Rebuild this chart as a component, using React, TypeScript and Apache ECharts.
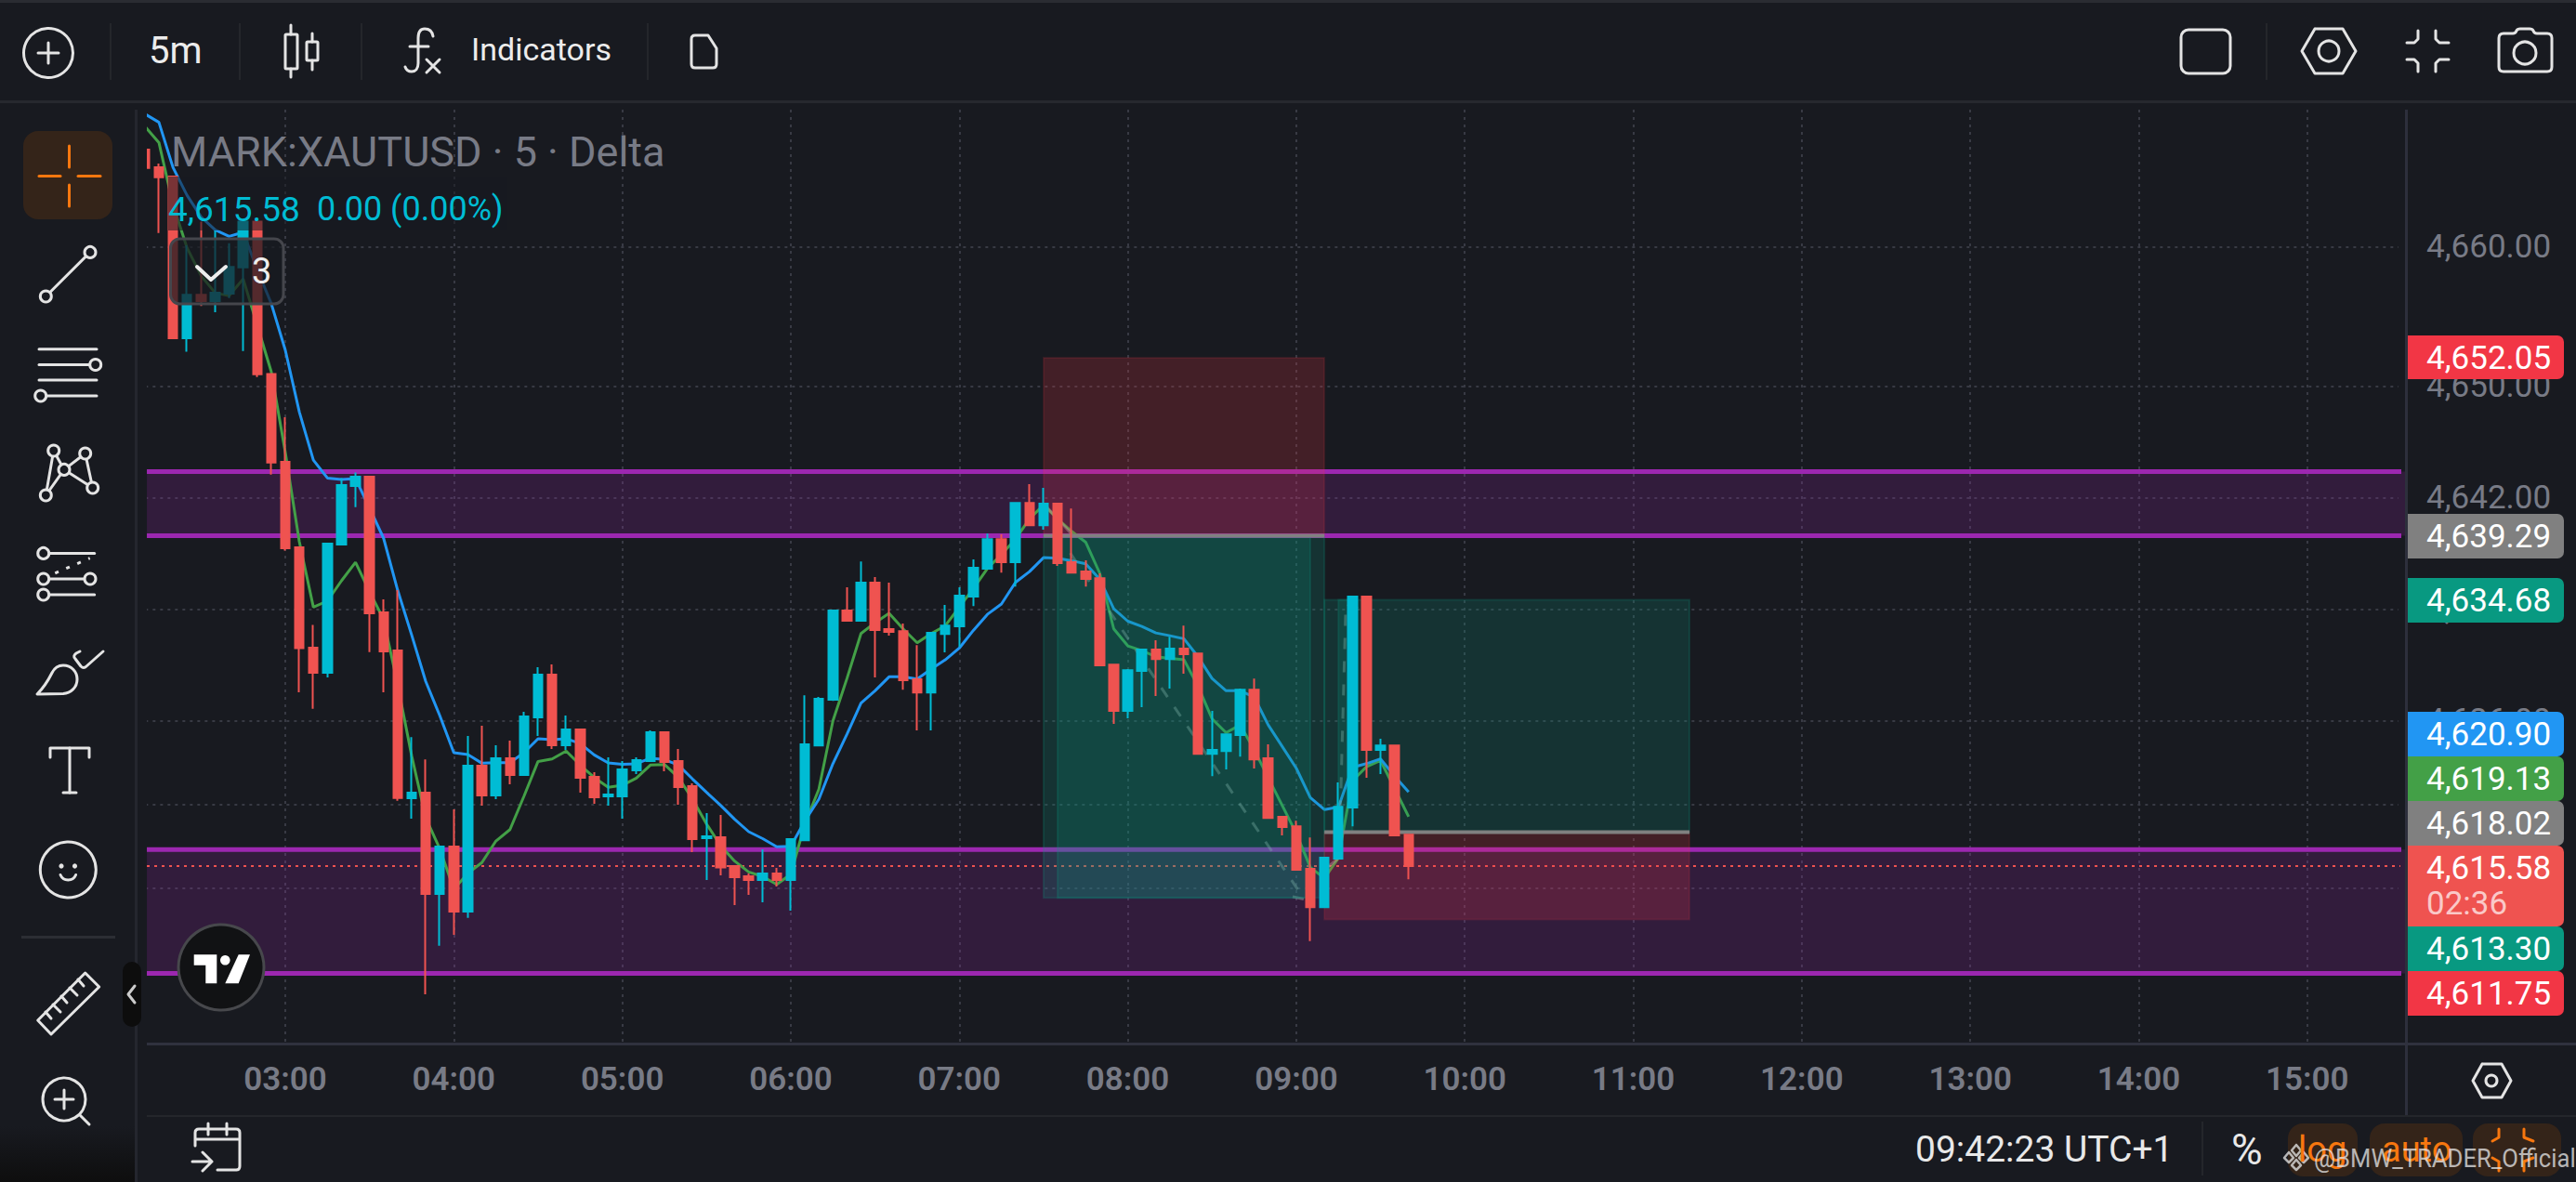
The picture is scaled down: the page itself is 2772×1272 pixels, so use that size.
import React, { useEffect, useRef } from "react";
import * as echarts from "echarts";

const BG = "#181a20";
const UP = "#00bcd4";
const DOWN = "#ef5350";
const ICON = "#e4e4e4";
const ORANGE = "#f7770f";

// candles run from 02:10 to 09:40, one per five minutes
const open = [
  4666.98, 4665.71, 4665.05, 4653.45, 4656.56, 4656.11, 4656.65, 4658.54, 4661.82, 4650.89,
  4644.58, 4638.45, 4631.25, 4629.45, 4638.65, 4642.85, 4643.51, 4633.78, 4631.05, 4620.45,
  4620.85, 4613.58, 4616.98, 4612.32, 4622.78, 4620.65, 4623.32, 4622.12, 4626.25, 4629.32,
  4624.25, 4625.38, 4621.98, 4620.58, 4620.58, 4622.45, 4623.12, 4625.18, 4623.12, 4621.32,
  4617.58, 4617.65, 4615.58, 4614.85, 4614.58, 4615.05, 4614.58, 4617.44, 4624.24, 4627.51,
  4633.91, 4633.18, 4635.91, 4632.58, 4632.44, 4628.98, 4628.04, 4632.24, 4632.78, 4634.91,
  4636.91, 4639.04, 4637.38, 4641.64, 4640.04, 4641.58, 4637.38, 4636.71, 4636.24, 4630.04,
  4626.71, 4629.58, 4631.11, 4630.44, 4631.18, 4630.84, 4623.64, 4623.84, 4624.98, 4628.24,
  4623.31, 4619.11, 4618.44, 4615.38, 4612.64, 4616.11, 4619.78, 4634.91, 4623.91, 4624.24, 4617.84,
];
const close = [
  4665.67, 4665.0, 4653.45, 4656.56, 4656.11, 4656.71, 4658.56, 4661.82, 4650.87, 4644.54,
  4638.38, 4631.21, 4629.45, 4638.71, 4642.91, 4643.51, 4633.72, 4630.98, 4620.47, 4620.85,
  4613.58, 4616.98, 4612.32, 4622.78, 4620.65, 4623.32, 4622.12, 4626.32, 4629.32, 4624.25,
  4625.38, 4621.92, 4620.52, 4620.72, 4622.52, 4623.18, 4625.18, 4623.05, 4621.25, 4617.52,
  4617.72, 4615.49, 4614.78, 4614.58, 4615.05, 4614.58, 4617.52, 4624.31, 4627.58, 4633.91,
  4633.18, 4635.91, 4632.51, 4632.38, 4628.91, 4628.04, 4632.31, 4632.84, 4634.98, 4636.98,
  4639.04, 4637.38, 4641.64, 4640.04, 4641.58, 4637.31, 4636.64, 4636.18, 4629.98, 4626.71,
  4629.64, 4631.11, 4630.44, 4631.18, 4630.78, 4623.64, 4623.91, 4625.04, 4628.24, 4623.24,
  4619.04, 4618.38, 4615.31, 4612.64, 4616.18, 4619.84, 4634.91, 4623.91, 4624.24, 4617.78, 4615.58,
];
const low = [
  4665.67, 4661.0, 4653.45, 4652.49, 4655.76, 4655.31, 4656.34, 4652.54, 4650.67, 4643.67,
  4638.22, 4628.05, 4626.87, 4629.12, 4638.65, 4641.34, 4630.94, 4628.05, 4620.27, 4618.98,
  4606.38, 4609.87, 4610.65, 4611.87, 4619.92, 4620.38, 4621.45, 4622.12, 4624.92, 4623.98,
  4623.92, 4620.85, 4620.05, 4619.92, 4618.98, 4622.18, 4623.12, 4622.38, 4619.98, 4616.58,
  4614.58, 4614.92, 4612.78, 4613.52, 4612.98, 4614.12, 4612.38, 4617.44, 4624.24, 4627.44,
  4633.18, 4633.18, 4629.11, 4632.11, 4628.24, 4625.31, 4625.31, 4630.91, 4631.31, 4634.24,
  4636.91, 4636.64, 4635.64, 4640.04, 4639.71, 4637.11, 4636.64, 4635.64, 4629.91, 4625.78,
  4626.18, 4626.98, 4627.78, 4628.31, 4629.38, 4623.64, 4622.04, 4622.51, 4623.44, 4622.58,
  4619.04, 4617.78, 4615.31, 4610.2, 4612.58, 4616.11, 4618.44, 4621.91, 4622.18, 4617.78, 4614.64,
];
const high = [
  4666.98, 4665.98, 4665.05, 4660.11, 4661.82, 4661.16, 4660.27, 4661.82, 4661.82, 4650.89,
  4647.78, 4638.45, 4632.89, 4638.71, 4643.42, 4643.82, 4643.51, 4634.72, 4635.38, 4624.83,
  4623.23, 4616.98, 4619.65, 4624.92, 4625.65, 4624.25, 4624.58, 4626.65, 4629.85, 4630.05,
  4626.38, 4625.38, 4622.32, 4623.38, 4623.12, 4623.38, 4625.32, 4625.25, 4623.98, 4621.52,
  4619.38, 4619.25, 4615.65, 4615.05, 4616.78, 4615.45, 4617.52, 4627.84, 4627.71, 4633.91,
  4635.58, 4637.44, 4636.31, 4635.91, 4632.98, 4631.44, 4632.31, 4634.31, 4635.58, 4637.58,
  4639.44, 4639.38, 4641.64, 4642.98, 4642.71, 4641.58, 4641.24, 4637.51, 4636.58, 4630.04,
  4629.71, 4631.18, 4631.78, 4632.04, 4632.84, 4630.84, 4626.71, 4625.04, 4628.31, 4629.04,
  4624.31, 4619.18, 4618.84, 4617.64, 4616.18, 4621.58, 4634.91, 4634.91, 4624.71, 4624.24, 4617.84,
];
const maBlue = [
  4669.54, 4668.94, 4665.71, 4663.71, 4662.16, 4661.22, 4660.76, 4661.05, 4658.38, 4655.94,
  4652.6, 4648.16, 4644.71, 4643.42, 4643.31, 4643.38, 4641.27, 4639.1, 4635.38, 4632.16,
  4628.83, 4626.38, 4623.72, 4623.58, 4622.96, 4623.0, 4623.0, 4623.72, 4624.72, 4624.65,
  4624.72, 4624.38, 4623.56, 4622.98, 4622.89, 4622.92, 4623.32, 4623.23, 4622.83, 4621.83,
  4620.87, 4619.94, 4618.94, 4618.05, 4617.55, 4616.97, 4617.0, 4618.82, 4620.38, 4622.93,
  4625.04, 4627.27, 4628.16, 4629.16, 4629.16, 4629.0, 4629.71, 4630.38, 4631.22, 4632.49,
  4633.64, 4634.38, 4635.93, 4636.71, 4637.71, 4637.67, 4637.49, 4637.27, 4636.16, 4634.04,
  4633.15, 4632.78, 4632.31, 4632.11, 4631.89, 4630.6, 4629.04, 4628.16, 4628.16, 4627.71,
  4625.71, 4624.16, 4622.6, 4620.49, 4619.64, 4619.82, 4622.67, 4622.93, 4623.27, 4622.04, 4620.9,
];
const maGreen = [
  4668.65, 4667.49, 4663.05, 4659.94, 4657.94, 4656.71, 4656.49, 4657.71, 4654.38, 4651.05,
  4645.27, 4638.85, 4634.16, 4634.6, 4636.05, 4637.38, 4635.27, 4633.27, 4628.6, 4623.49,
  4619.05, 4616.83, 4613.94, 4615.05, 4615.83, 4617.38, 4618.2, 4620.6, 4623.09, 4623.27,
  4623.83, 4622.83, 4621.94, 4621.23, 4621.38, 4621.89, 4622.83, 4622.87, 4621.94, 4620.38,
  4618.6, 4617.05, 4615.94, 4615.16, 4614.83, 4614.27, 4615.0, 4618.6, 4621.1, 4626.0,
  4629.04, 4632.27, 4633.04, 4633.71, 4632.6, 4631.6, 4632.27, 4632.82, 4634.16, 4635.49,
  4636.93, 4637.93, 4639.04, 4640.49, 4641.49, 4640.49, 4639.6, 4638.82, 4636.6, 4632.6,
  4631.38, 4631.04, 4630.6, 4630.49, 4630.38, 4628.49, 4626.15, 4625.15, 4625.71, 4623.93,
  4621.93, 4619.93, 4617.93, 4615.49, 4614.71, 4616.16, 4621.7, 4622.71, 4623.15, 4621.15, 4619.13,
];

const priceTicks = [4660, 4650, 4642, 4634, 4626, 4620, 4614];
const timeTicks = ["03:00", "04:00", "05:00", "06:00", "07:00", "08:00", "09:00", "10:00", "11:00", "12:00", "13:00", "14:00", "15:00"];

// [from bar, to bar, upper price, lower price]; bar 0 is 03:00
const purpleZones = [
  [-9.86, 150.96, 4643.89, 4639.29],
  [-9.86, 150.96, 4616.76, 4607.89],
];
const profitZones = [
  [54, 74, 4639.29, 4613.3],
  [55, 73, 4639.29, 4613.3],
  [74, 100, 4634.68, 4618.02],
  [75, 76, 4634.68, 4618.02],
];
const lossZones = [
  [54, 74, 4652.05, 4639.29],
  [74, 100, 4618.02, 4611.75],
];
const purpleLevels = [4643.89, 4639.29, 4616.76, 4607.89];
const entryLines = [
  [54, 74, 4639.29],
  [74, 100, 4618.02],
];
const lastPrice = 4615.58;
const dashedPaths = [
  [[55.9, 4638.04], [72.53, 4613.27]],
  [[75.05, 4616.16], [75.53, 4634.38], [76.49, 4634.04]],
];
const solidPaths = [
  [[54, 4641.6], [56, 4639.4]],
  [[71.74, 4613.38], [72.53, 4613.22]],
  [[74, 4615.3], [75, 4616.16]],
];
// [text, background, top, bottom]
const priceTags: [string, string, number, number][] = [
  ["4,652.05", "#f23645", 361, 408],
  ["4,639.29", "#808080", 553, 601],
  ["4,634.68", "#089981", 622, 670],
  ["4,620.90", "#2196f3", 766, 814],
  ["4,619.13", "#43a047", 814, 862],
  ["4,618.02", "#808080", 862, 910],
  ["4,615.58", "#ef5350", 910, 997],
  ["4,613.30", "#089981", 997, 1045],
  ["4,611.75", "#f23645", 1045, 1093],
];

const categories: string[] = [];
for (let i = -10; i <= 150; i++) {
  const m = 180 + i * 5;
  categories.push(String(Math.floor(m / 60) % 24).padStart(2, "0") + ":" + String(m % 60).padStart(2, "0"));
}

const shapes: Record<string, string> = {
  fxIcon: "M466 39 C465 33 461 31 457 31 C452 31 450 35 450 41 L450 68 C450 74 447 77 443 77 C439 77 437 75 436 72 M441 50 L461 50 M459 64 L473 78 M473 64 L459 78",
  docIcon: "M748 38 L762 38 L771 52 L771 69 Q771 73 767 73 L748 73 Q744 73 744 69 L744 42 Q744 38 748 38 Z",
  cameraIcon: "M2694 36 L2704 36 Q2707 36 2708 33 Q2709 31 2712 31 L2722 31 Q2725 31 2726 33 Q2727 36 2730 36 L2741 36 Q2746 36 2746 41 L2746 72 Q2746 77 2741 77 L2694 77 Q2689 77 2689 72 L2689 41 Q2689 36 2694 36 Z",
  brushIcon: "M40 747 C48 739 52 732 56 724 C59 718 63 716 68 716 C77 716 83 723 83 731 C83 740 76 746 68 746.5 Z M86 701 L82 703 Q78 706 81 709 L87 717 Q90 720 93 717 L111 701",
  calendarIcon: "M210 1233 L210 1219 Q210 1215 214 1215 L254 1215 Q258 1215 258 1219 L258 1255 Q258 1259 254 1259 L234 1259 M210 1226 L258 1226 M224 1209 L224 1221 M244 1209 L244 1221 M207 1250 L228 1250 M218 1240 L228 1250 L218 1260",
};
Object.keys(shapes).forEach((k) => echarts.graphic.registerShape(k, echarts.graphic.extendPath(shapes[k], {})));

const stroke = (color = ICON, lineWidth = 3) => ({ fill: "none", stroke: color, lineWidth, lineCap: "round", lineJoin: "round" });
const ln = (x1: number, y1: number, x2: number, y2: number, color = ICON, w = 3) => ({
  type: "line", z: 101, shape: { x1, y1, x2, y2 }, style: stroke(color, w),
});
const ci = (cx: number, cy: number, r: number, color = ICON, w = 3) => ({
  type: "circle", z: 101, shape: { cx, cy, r }, style: stroke(color, w),
});
const node = (cx: number, cy: number, r = 6) => ({
  type: "circle", z: 102, shape: { cx, cy, r }, style: { fill: BG, stroke: ICON, lineWidth: 3 },
});
const dot = (cx: number, cy: number, r: number, fill = ICON) => ({ type: "circle", z: 101, shape: { cx, cy, r }, style: { fill } });
const rc = (x: number, y: number, width: number, height: number, fill: string, r: any = 0, z = 100) => ({
  type: "rect", z, shape: { x, y, width, height, r }, style: { fill },
});
const pl = (points: number[][], color = ICON, w = 3) => ({ type: "polyline", z: 101, shape: { points }, style: stroke(color, w) });
const pg = (points: number[][], fill = "#fff") => ({ type: "polygon", z: 102, shape: { points }, style: { fill } });
const ic = (name: string, color = ICON, w = 3) => ({ type: name, z: 101, x: 0, y: 0, style: stroke(color, w) });
const tx = (text: string, x: number, y: number, fontSize: number, fill: string, extra: any = {}, el: any = {}) => ({
  type: "text", z: 103, x, y, ...el,
  style: { text, fontSize, fill, fontFamily: "Roboto", verticalAlign: "middle", align: "left", ...extra },
});

function buildGraphics() {
  const els: any[] = [
    // clear strip between the tool panel and the plot
    rc(147, 112, 11, 1012, BG, 0, 99),
    // frame lines
    rc(0, 0, 2772, 3, "#2a2c32", 0, 99),
    rc(0, 108, 2772, 3, "#26282e", 0, 99),
    rc(145, 118, 3, 1154, "#24262e", 0, 99),
    rc(2588, 118, 3, 1083, "#2d2f3c", 0, 99),
    rc(158, 1122, 2614, 3, "#2f313e", 0, 99),
    rc(158, 1200, 2614, 2, "#24262b", 0, 99),
    {
      type: "rect", z: 99, shape: { x: 0, y: 1212, width: 145, height: 60 },
      style: {
        fill: new echarts.graphic.LinearGradient(0, 0, 0, 1, [
          { offset: 0, color: BG },
          { offset: 1, color: "#0e0e0e" },
        ]),
      },
    },
    // legend backdrop and texts
    rc(181, 190, 365, 58, "rgba(24,26,32,0.55)", 0, 99),
    tx("MARK:XAUTUSD · 5 · Delta", 184, 163, 45, "#787b86"),
    tx("4,615.58", 181, 225, 37, UP),
    tx("0.00 (0.00%)", 341, 225, 36, UP),
    { type: "rect", z: 100, shape: { x: 183.5, y: 257, width: 121.5, height: 70, r: 10 }, style: { fill: "rgba(24,26,32,0.72)", stroke: "#45464c", lineWidth: 3 } },
    pl([[212, 287], [227, 301], [243, 287]], "#eeeeee", 4),
    tx("3", 271, 292, 38, "#eeeeee"),

    // top tool bar
    ci(52, 57, 26.5),
    ln(41, 57, 63, 57),
    ln(52, 46, 52, 68),
    rc(118, 25, 2, 61, "#24262b"),
    tx("5m", 160, 54, 40, "#ececec"),
    rc(257, 25, 2, 61, "#24262b"),
    ln(313, 27, 313, 37),
    ln(313, 74, 313, 83),
    { type: "rect", z: 101, shape: { x: 307, y: 37, width: 13, height: 37, r: 1 }, style: stroke() },
    ln(336, 36, 336, 45),
    ln(336, 65, 336, 75),
    { type: "rect", z: 101, shape: { x: 330, y: 45, width: 12, height: 20, r: 1 }, style: stroke() },
    rc(388, 25, 2, 61, "#24262b"),
    ic("fxIcon"),
    tx("Indicators", 507, 53, 34, "#ececec"),
    rc(696, 25, 2, 61, "#24262b"),
    ic("docIcon"),
    { type: "rect", z: 101, shape: { x: 2347, y: 32, width: 53, height: 47, r: 8 }, style: stroke() },
    rc(2438, 25, 2, 61, "#24262b"),
    pl([[2491, 31], [2521, 31], [2535, 55], [2521, 79], [2491, 79], [2477, 55], [2491, 31]]),
    ci(2506, 55, 11),
    pl([[2590, 46], [2598, 46], [2602, 42], [2602, 33]]),
    pl([[2621, 33], [2621, 42], [2625, 46], [2635, 46]]),
    pl([[2590, 64], [2598, 64], [2602, 68], [2602, 77]]),
    pl([[2621, 77], [2621, 68], [2625, 64], [2635, 64]]),
    ic("cameraIcon"),
    ci(2717, 57, 12),

    // left tool bar
    rc(25, 141, 96, 95, "#342419", 16),
    ln(74.5, 157, 74.5, 180, ORANGE),
    ln(74.5, 199, 74.5, 222, ORANGE),
    ln(42, 189.5, 65, 189.5, ORANGE),
    ln(84, 189.5, 108, 189.5, ORANGE),
    // trend line
    ln(49.3, 319, 97, 271.4),
    node(49.3, 319),
    node(97, 271.4),
    // fib channel
    ln(42, 375.7, 104, 375.7),
    ln(42, 392.5, 97, 392.5),
    ln(42, 409, 104, 409),
    ln(50, 426, 104, 426),
    node(102.7, 392.5),
    node(43.7, 426),
    // pattern
    ln(57.7, 485, 49.3, 533),
    ln(57.7, 485, 69, 505.4),
    ln(49.3, 533, 69, 505.4),
    ln(69, 505.4, 91.7, 488),
    ln(91.7, 488, 99.7, 525),
    ln(69, 505.4, 99.7, 525),
    node(57.7, 485),
    node(91.7, 488),
    node(69, 505.4),
    node(99.7, 525),
    node(49.3, 533),
    // forecast levels
    ln(46.7, 595.4, 101.7, 595.4),
    ln(46.7, 623, 97, 623),
    ln(46.7, 640, 101.7, 640),
    { type: "line", z: 101, shape: { x1: 59.3, y1: 616.8, x2: 96.7, y2: 600.7 }, style: { stroke: ICON, lineWidth: 3, lineDash: [4, 9] } },
    node(46.7, 595.4),
    node(46.7, 623),
    node(97, 623),
    node(46.7, 640),
    ic("brushIcon"),
    pl([[54, 815], [54, 805], [96, 805], [96, 815]]),
    ln(75, 805, 75, 853),
    ln(68, 853, 82, 853),
    ci(73.3, 936, 30),
    dot(66, 932, 2.6),
    dot(80.5, 932, 2.6),
    { type: "arc", z: 101, shape: { cx: 73.3, cy: 938, r: 9, startAngle: 0.4, endAngle: Math.PI - 0.4 }, style: stroke() },
    rc(23, 1007, 101, 3, "#2c2e34"),
    pl([[91.7, 1047], [106.7, 1062], [55, 1113], [40.7, 1098], [91.7, 1047]]),
    ln(84, 1054, 90, 1061),
    ln(75, 1063, 83, 1071),
    ln(66, 1072, 72, 1079),
    ln(57, 1081, 65, 1089),
    ln(49, 1089, 55, 1096),
    ci(69, 1183, 23),
    ln(59, 1183, 79, 1183),
    ln(69, 1173, 69, 1193),
    ln(86, 1200, 96, 1210),
    rc(132, 1035, 20, 70, "#0d0d0d", 10),
    pl([[145, 1061], [138, 1070], [145, 1079]], "#cccccc", 3),

    // logo
    { type: "circle", z: 100, shape: { cx: 238, cy: 1041, r: 46 }, style: { fill: "#111214", stroke: "#47484c", lineWidth: 3 } },
    pg([[208.7, 1027.3], [233.3, 1027.3], [233.3, 1058.3], [221.3, 1058.3], [221.3, 1038.7], [208.7, 1038.7]]),
    pg([[256.7, 1027.3], [269, 1027.3], [256.7, 1058.3], [242.3, 1058.3]]),
    { type: "circle", z: 102, shape: { cx: 242.3, cy: 1033.3, r: 5.3 }, style: { fill: "#fff" } },

    // bottom bar
    ic("calendarIcon"),
    pl([[2671, 1145], [2692, 1145], [2702, 1163], [2692, 1181], [2671, 1181], [2661, 1163], [2671, 1145]]),
    ci(2681, 1163, 6),
    tx("09:42:23 UTC+1", 2061, 1237, 39, "#e8e8e8"),
    rc(2369, 1207, 2, 58, "#24262b"),
    tx("%", 2401, 1237, 46, "#e8e8e8"),
    rc(2462, 1209, 75, 57, "#342419", 16),
    rc(2550, 1209, 100, 57, "#342419", 16),
    rc(2661, 1209, 95, 57, "#342419", 16),
    tx("log", 2473, 1237, 38, ORANGE),
    tx("auto", 2563, 1237, 38, ORANGE),
    pl([[2689, 1215], [2689, 1224], [2682, 1228]], ORANGE),
    pl([[2716, 1215], [2716, 1224], [2726, 1228]], ORANGE),
    pl([[2682, 1246], [2689, 1250], [2689, 1260]], ORANGE),
    pl([[2726, 1246], [2716, 1250], [2716, 1260]], ORANGE),
    tx("@BMW_TRADER_Official", 2490, 1247, 27, "rgba(225,225,225,0.78)", {}, { scaleX: 0.95 }),
    pl([[2471, 1232], [2476, 1238], [2471, 1244], [2466, 1238], [2471, 1232]], "rgba(225,225,225,0.78)", 2.5),
    pl([[2463, 1240], [2468, 1246], [2463, 1251], [2458, 1246], [2463, 1240]], "rgba(225,225,225,0.78)", 2.5),
    pl([[2479, 1240], [2484, 1246], [2479, 1251], [2474, 1246], [2479, 1240]], "rgba(225,225,225,0.78)", 2.5),
    pl([[2471, 1248], [2476, 1254], [2471, 1259], [2466, 1254], [2471, 1248]], "rgba(225,225,225,0.78)", 2.5),
  ];
  priceTags.forEach(([t, color, top, bottom]) => {
    els.push(rc(2591, top, 168, bottom - top, color, [0, 7, 7, 0]));
    els.push(tx(t, 2611, top + 24, 35, "#ffffff"));
  });
  els.push(tx("02:36", 2611, 972, 35, "rgba(255,255,255,0.7)"));
  return els;
}

const zoneSeries = (data: number[][], fill: string, edge: string | null, z: number, clip: boolean) => ({
  type: "custom",
  xAxisIndex: 1,
  z,
  clip,
  silent: true,
  encode: { x: [0, 1], y: [2, 3] },
  data,
  renderItem: (_: any, api: any) => {
    const a = api.coord([api.value(0), api.value(2)]);
    const b = api.coord([api.value(1), api.value(3)]);
    return {
      type: "rect",
      shape: { x: a[0], y: a[1], width: b[0] - a[0], height: b[1] - a[1] },
      style: { fill, stroke: edge || "none", lineWidth: edge ? 2 : 0 },
    };
  },
});

const pathSeries = (points: number[][], color: string, width: number, z: number, dash: any = "solid") => ({
  type: "line",
  xAxisIndex: 1,
  z,
  data: points,
  symbol: "none",
  silent: true,
  clip: false,
  lineStyle: { color, width, type: dash },
});

const isHour = (_: number, value: string) => timeTicks.includes(value);

export default function App() {
  const ref = useRef<HTMLDivElement>(null);
  useEffect(() => {
    document.body.style.margin = "0";
    document.body.style.background = BG;
    const chart = echarts.init(ref.current!, undefined, { renderer: "svg" });
    chart.setOption({
      animation: false,
      backgroundColor: BG,
      textStyle: { fontFamily: "Roboto" },
      grid: { left: 148.35, top: 118, width: 2432.7, height: 1005 },
      xAxis: [
        {
          type: "category",
          data: categories,
          boundaryGap: true,
          axisLine: { show: false },
          axisTick: { show: false, alignWithLabel: true, interval: isHour },
          axisLabel: { interval: isHour, color: "#787b86", fontSize: 35, fontWeight: 600, fontFamily: "Roboto", margin: 21, hideOverlap: false },
          splitLine: { show: true, interval: isHour, alignWithLabel: true, lineStyle: { color: "#383a44", width: 2, type: [3, 5] } },
        },
        { type: "value", min: -10.5, max: 150.5, show: false, splitLine: { show: false } },
      ],
      yAxis: {
        type: "value",
        position: "right",
        min: 4602.85,
        max: 4669.85,
        axisLine: { show: false },
        axisTick: { show: false, customValues: priceTicks },
        axisLabel: {
          customValues: priceTicks,
          color: "#787b86",
          fontSize: 35,
          fontFamily: "Roboto",
          margin: 30,
          formatter: (v: number) => v.toLocaleString("en-US", { minimumFractionDigits: 2, maximumFractionDigits: 2 }),
        },
        splitLine: { show: true, lineStyle: { color: "#383a44", width: 2, type: [3, 5] } },
      },
      graphic: { elements: buildGraphics() },
      series: [
        zoneSeries(purpleZones, "rgba(156,39,176,0.2)", null, 1, false),
        ...purpleLevels.map((p) => pathSeries([[-9.86, p], [150.96, p]], "#9c27b0", 5, 1)),
        pathSeries([[-9.86, lastPrice], [150.7, lastPrice]], "#ef5350", 2, 2, [3, 5]),
        {
          type: "line", data: maGreen, symbol: "none", z: 2, silent: true,
          lineStyle: { color: "#43a047", width: 3 },
        },
        {
          type: "line", data: maBlue, symbol: "none", z: 2, silent: true,
          lineStyle: { color: "#2196f3", width: 3 },
        },
        ...solidPaths.map((p) => pathSeries(p, "rgba(190,190,190,0.4)", 3, 2)),
        ...dashedPaths.map((p) => pathSeries(p, "rgba(190,190,190,0.38)", 3, 2, [12, 13])),
        zoneSeries(profitZones, "rgba(8,153,129,0.2)", "rgba(8,153,129,0.2)", 3, true),
        zoneSeries(lossZones, "rgba(242,54,69,0.2)", "rgba(242,54,69,0.12)", 3, true),
        ...entryLines.map((e) => pathSeries([[e[0], e[2]], [e[1], e[2]]], "#808080", 4, 3)),
        {
          type: "candlestick",
          z: 4,
          barWidth: 10,
          silent: true,
          data: open.map((o, i) => [o, close[i], low[i], high[i]]),
          itemStyle: { color: UP, color0: DOWN, borderColor: UP, borderColor0: DOWN, borderWidth: 2 },
        },
      ],
    });
    return () => chart.dispose();
  }, []);
  return <div ref={ref} style={{ width: 2772, height: 1272 }} />;
}
